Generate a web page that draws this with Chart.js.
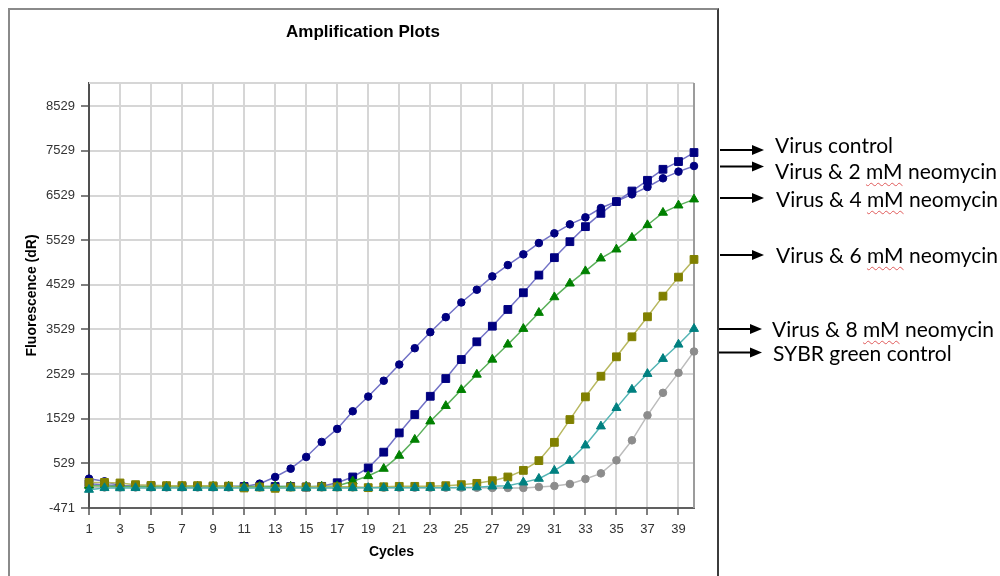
<!DOCTYPE html>
<html lang="en">
<head>
<meta charset="UTF-8">
<title>Amplification Plots</title>
<script src="https://cdn.jsdelivr.net/npm/chart.js@4/dist/chart.umd.min.js"></script>
<style>
  * { margin: 0; padding: 0; box-sizing: border-box; }
  body { width: 1000px; height: 576px; overflow: hidden; background: #fff; position: relative; }
  #frame { position: absolute; left: 8px; top: 8px; width: 711px; height: 620px;
           border-left: 2px solid #8a8a8a; border-top: 2px solid #8a8a8a; border-right: 2px solid #3c3c3c; }
  #chart { position: absolute; left: 0; top: 0; }
  .note { position: absolute; font-family: Lato, 'Open Sans', sans-serif; font-size: 21px;
          line-height: 24px; color: #000; white-space: nowrap; }
  .note .sp { text-decoration: underline wavy #e05a5a; text-decoration-thickness: 1px; text-underline-offset: 3px; }
</style>
</head>
<body>
<div id="frame"></div>
<canvas id="chart" width="1000" height="576"></canvas>
<div id="notes"></div>

<script>
// ── Data ─────────────────────────────────────────────────────────────────────
const cycles = [1, 2, 3, 4, 5, 6, 7, 8, 9, 10, 11, 12, 13, 14, 15, 16, 17, 18, 19, 20,
                21, 22, 23, 24, 25, 26, 27, 28, 29, 30, 31, 32, 33, 34, 35, 36, 37, 38, 39, 40];

const xTicks = [1, 3, 5, 7, 9, 11, 13, 15, 17, 19, 21, 23, 25, 27, 29, 31, 33, 35, 37, 39];
const yTicks = [-471, 529, 1529, 2529, 3529, 4529, 5529, 6529, 7529, 8529];

const seriesNames = ['Virus control', 'Virus & 2 mM neomycin', 'Virus & 4 mM neomycin',
                     'Virus & 6 mM neomycin', 'Virus & 8 mM neomycin', 'SYBR green control'];

const virusControl = [70, 50, 30, 20, 14, 10, 10, 10, 10, 10, 10, 10, 10, 10, 0, 14, 95, 224, 426, 780,
                      1211, 1622, 2032, 2429, 2855, 3252, 3602, 3977, 4351, 4746, 5137, 5495, 5832, 6130, 6393, 6630, 6870, 7117, 7290, 7492];
const neo2mM = [186, 126, 29, 14, 14, 10, 10, 10, 10, 10, 10, 74, 224, 410, 673, 1009, 1301, 1696, 2025, 2380,
                2743, 3109, 3468, 3804, 4134, 4419, 4717, 4971, 5211, 5464, 5682, 5883, 6040, 6249, 6399, 6556, 6720, 6915, 7065, 7191];
const neo4mM = [30, 20, 10, 10, 10, 10, 10, 10, 10, 10, 10, 10, 10, 10, 10, 10, 20, 130, 245, 410,
                702, 1061, 1471, 1817, 2176, 2519, 2855, 3192, 3544, 3903, 4253, 4560, 4836, 5121, 5323, 5585, 5868, 6146, 6309, 6444];
const neo6mM = [103, 103, 90, 52, 36, 30, 30, 30, 25, 20, -22, 0, -30, 0, 0, 5, 5, 5, -15, 5,
                14, 14, 14, 29, 52, 81, 141, 224, 372, 590, 1000, 1510, 2019, 2481, 2916, 3364, 3813, 4275, 4701, 5098];
const neo8mM = [-60, -22, -25, -22, -22, -22, -22, -22, -22, -22, -22, -22, -22, -22, -22, -22, -22, -22, -20, -20,
                -20, -20, -18, -15, -10, -5, 14, 29, 103, 186, 366, 590, 933, 1359, 1772, 2182, 2535, 2871, 3192, 3544];
const sybrControl = [-10, -10, -10, -10, -10, -10, -10, -10, -10, -10, -10, -10, -10, -10, -10, -10, -10, -10, -12, -15,
                     -15, -15, -15, -15, -15, -18, -22, -22, -22, 0, 22, 67, 180, 305, 597, 1045, 1606, 2109, 2557, 3035];

// ── Styles ───────────────────────────────────────────────────────────────────
const points = (vals) => cycles.map((c, i) => ({ x: c, y: vals[i] }));

function series(name, vals, marker, line, style, radius, order) {
  return {
    label: name, data: points(vals), order,
    borderColor: line, borderWidth: 1.5, backgroundColor: marker,
    pointStyle: style, pointRadius: radius, pointBorderColor: marker, pointBackgroundColor: marker,
    pointBorderWidth: 1, tension: 0, clip: false,
  };
}

// annotation arrows on the right (x start, x end, y)
const NOTE_ARROWS = [[720, 764, 150], [720, 764, 166.5], [720, 764, 198], [720, 764, 255], [719, 762, 329], [719, 762, 352.5]];
const NOTE_POS = [[775, 145], [775, 170.5], [776, 199], [776, 255], [772, 329], [773, 353]];

const plotFrame = {
  id: 'plotFrame',
  beforeDatasetsDraw(chart) {
    const { ctx, chartArea: a } = chart;
    ctx.save();
    ctx.lineWidth = 2;
    ctx.strokeStyle = '#d6d6d6';
    ctx.beginPath(); ctx.moveTo(a.left, a.top); ctx.lineTo(a.right, a.top); ctx.stroke();
    ctx.strokeStyle = '#9c9c9c';
    ctx.beginPath(); ctx.moveTo(a.right, a.top); ctx.lineTo(a.right, a.bottom); ctx.stroke();
    ctx.restore();
  },
  afterDraw(chart) {
    const ctx = chart.ctx;
    ctx.save();
    ctx.fillStyle = '#000';
    ctx.strokeStyle = '#000';
    ctx.lineWidth = 2;
    NOTE_ARROWS.forEach(([x1, x2, y]) => {
      ctx.beginPath(); ctx.moveTo(x1, y); ctx.lineTo(x2 - 10, y); ctx.stroke();
      ctx.beginPath(); ctx.moveTo(x2, y); ctx.lineTo(x2 - 12, y - 5); ctx.lineTo(x2 - 12, y + 5); ctx.closePath(); ctx.fill();
    });
    ctx.restore();
  },
};

Chart.defaults.font.family = "'Liberation Sans', Arial, sans-serif";

new Chart(document.getElementById('chart'), {
  type: 'line',
  data: {
    datasets: [
      series(seriesNames[0], virusControl, '#000080', '#7272c6', 'rect', 5.5, 4),
      series(seriesNames[1], neo2mM, '#000080', '#7272c6', 'circle', 3.8, 5),
      series(seriesNames[2], neo4mM, '#008000', '#5cb05c', 'triangle', 5.2, 3),
      series(seriesNames[3], neo6mM, '#808000', '#b8b860', 'rect', 5.5, 2),
      series(seriesNames[4], neo8mM, '#008080', '#55b5b5', 'triangle', 5.2, 1),
      series(seriesNames[5], sybrControl, '#8c8c8c', '#bcbcbc', 'circle', 3.8, 6),
    ],
  },
  options: {
    responsive: false,
    animation: false,
    events: [],
    layout: { padding: { left: 32, right: 306, top: 10, bottom: 0 } },
    plugins: {
      legend: { display: false },
      tooltip: { enabled: false },
      title: {
        display: true, text: 'Amplification Plots', color: '#000',
        font: { size: 17, weight: 'bold' }, padding: { top: 12.5, bottom: 40.1 },
      },
    },
    scales: {
      x: {
        type: 'linear', min: 1, max: 40,
        afterBuildTicks: (s) => { s.ticks = xTicks.map((v) => ({ value: v })); },
        afterFit: (s) => { s.height = 68; },
        grid: { color: '#d6d6d6', lineWidth: 2, tickColor: '#555', tickLength: 7, tickWidth: 1.5 },
        border: { color: '#606060', width: 2 },
        ticks: { color: '#333', font: { size: 13 }, padding: 7, autoSkip: false, maxRotation: 0,
                 callback: (v) => String(v) },
        title: { display: true, text: 'Cycles', color: '#000', font: { size: 14, weight: 'bold' }, padding: { top: 0, bottom: 15.6 } },
      },
      y: {
        type: 'linear', min: -471, max: 9050,
        afterBuildTicks: (s) => { s.ticks = yTicks.map((v) => ({ value: v })); },
        afterFit: (s) => { s.width = 57; },
        grid: { color: '#d6d6d6', lineWidth: 2, tickColor: '#555', tickLength: 8, tickWidth: 1.5 },
        border: { color: '#505050', width: 2 },
        ticks: { color: '#333', font: { size: 13 }, padding: 6, callback: (v) => String(v) },
        title: { display: true, text: 'Fluorescence (dR)', color: '#000', font: { size: 14, weight: 'bold' }, padding: { top: -8.7, bottom: 0 } },
      },
    },
  },
  plugins: [plotFrame],
});

// ── Right-hand annotations ───────────────────────────────────────────────────
const notes = document.getElementById('notes');
seriesNames.forEach((name, i) => {
  const el = document.createElement('div');
  el.className = 'note';
  el.style.left = NOTE_POS[i][0] + 'px';
  el.style.top = (NOTE_POS[i][1] - 12) + 'px';
  const parts = name.split('mM');
  parts.forEach((p, j) => {
    el.appendChild(document.createTextNode(p));
    if (j < parts.length - 1) {
      const sp = document.createElement('span');
      sp.className = 'sp';
      sp.textContent = 'mM';
      el.appendChild(sp);
    }
  });
  notes.appendChild(el);
});
</script>
</body>
</html>
